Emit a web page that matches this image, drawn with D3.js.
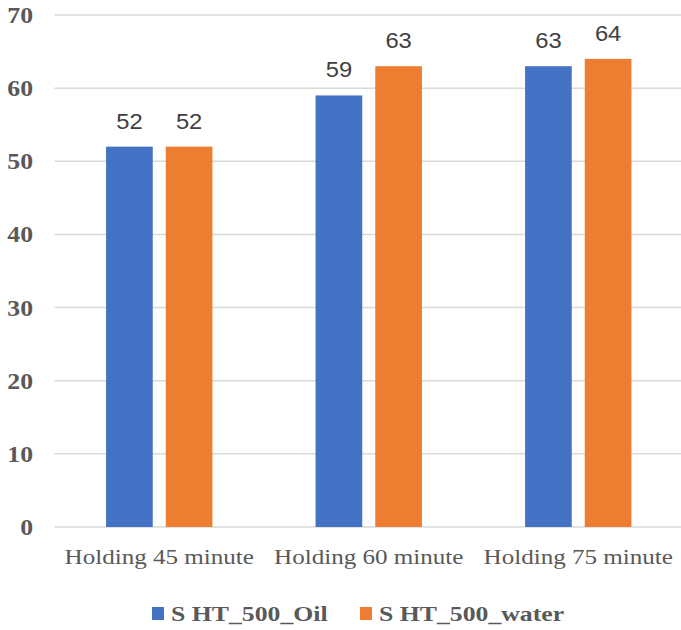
<!DOCTYPE html>
<html>
<head>
<meta charset="utf-8">
<script src="https://cdn.jsdelivr.net/npm/d3@7"></script>
<style>
  html, body { margin: 0; padding: 0; background: #fff; }
  svg { display: block; }
</style>
</head>
<body>
<svg id="chart" width="681" height="630"></svg>
<script>
const categories = ["Holding 45 minute", "Holding 60 minute", "Holding 75 minute"];
const seriesNames = ["S HT_500_Oil", "S HT_500_water"];
const oilValues = [52, 59, 63];
const waterValues = [52, 63, 64];
const yTicks = [0, 10, 20, 30, 40, 50, 60, 70];
const colors = ["#4472C4", "#ED7D31"];

const svg = d3.select("#chart");
const W = 681, H = 630;
const x0 = 54.5, x1 = 683;
const yTop = 15, yBot = 527;
const serif = "Liberation Serif, 'Times New Roman', serif";
const sans = "Liberation Sans, Arial, sans-serif";

const x = d3.scaleBand().domain(categories).range([x0, x1]);
const xs = d3.scaleBand().domain(seriesNames).range([0, x.bandwidth()])
  .paddingInner(0.218).paddingOuter(0.864);
const y = d3.scaleLinear().domain([0, 70]).range([yBot, yTop]);

// horizontal gridlines
svg.append("g")
  .selectAll("line")
  .data(yTicks)
  .join("line")
  .attr("x1", x0).attr("x2", W)
  .attr("y1", d => y(d)).attr("y2", d => y(d))
  .attr("stroke", "#d9d9d9").attr("stroke-width", 1.5);

// y axis tick labels (slightly widened serif)
svg.append("g")
  .selectAll("text")
  .data(yTicks)
  .join("text")
  .attr("transform", d => `translate(33,${y(d)}) scale(1.12,1)`)
  .attr("dy", "0.35em")
  .attr("text-anchor", "end")
  .attr("font-family", serif)
  .attr("font-weight", "bold")
  .attr("font-size", 23)
  .attr("fill", "#595959")
  .text(d => d);

const rows = categories.map((c, i) => ({ c, vals: [oilValues[i], waterValues[i]] }));

const groups = svg.append("g").selectAll("g")
  .data(rows).join("g")
  .attr("transform", d => `translate(${x(d.c)},0)`);

const cells = d => d.vals.map((v, j) => ({ s: seriesNames[j], v, j }));

groups.selectAll("rect")
  .data(cells)
  .join("rect")
  .attr("x", d => xs(d.s))
  .attr("width", xs.bandwidth())
  .attr("y", d => y(d.v))
  .attr("height", d => y(0) - y(d.v))
  .attr("fill", d => colors[d.j]);

// value labels above bars
groups.selectAll("text.val")
  .data(cells)
  .join("text")
  .attr("class", "val")
  .attr("transform", d => `translate(${xs(d.s) + xs.bandwidth() / 2},${y(d.v) - 18}) scale(1.08,1)`)
  .attr("text-anchor", "middle")
  .attr("font-family", sans)
  .attr("font-size", 22)
  .attr("fill", "#404040")
  .text(d => d.v);

// category labels
svg.append("g")
  .selectAll("text")
  .data(categories)
  .join("text")
  .attr("transform", d => `translate(${x(d) + x.bandwidth() / 2},564) scale(1.14,1)`)
  .attr("text-anchor", "middle")
  .attr("font-family", serif)
  .attr("font-size", 22)
  .attr("fill", "#595959")
  .text(d => d);

// legend
const legendX = [152, 360];
const legend = svg.append("g").selectAll("g")
  .data(seriesNames).join("g")
  .attr("transform", (d, i) => `translate(${legendX[i]},607)`);
legend.append("rect")
  .attr("width", 12).attr("height", 13)
  .attr("fill", (d, i) => colors[i]);
legend.append("text")
  .attr("transform", "translate(19,14) scale(1.17,1)")
  .attr("font-family", serif)
  .attr("font-weight", "bold")
  .attr("font-size", 22)
  .attr("fill", "#595959")
  .text(d => d);
</script>
</body>
</html>
